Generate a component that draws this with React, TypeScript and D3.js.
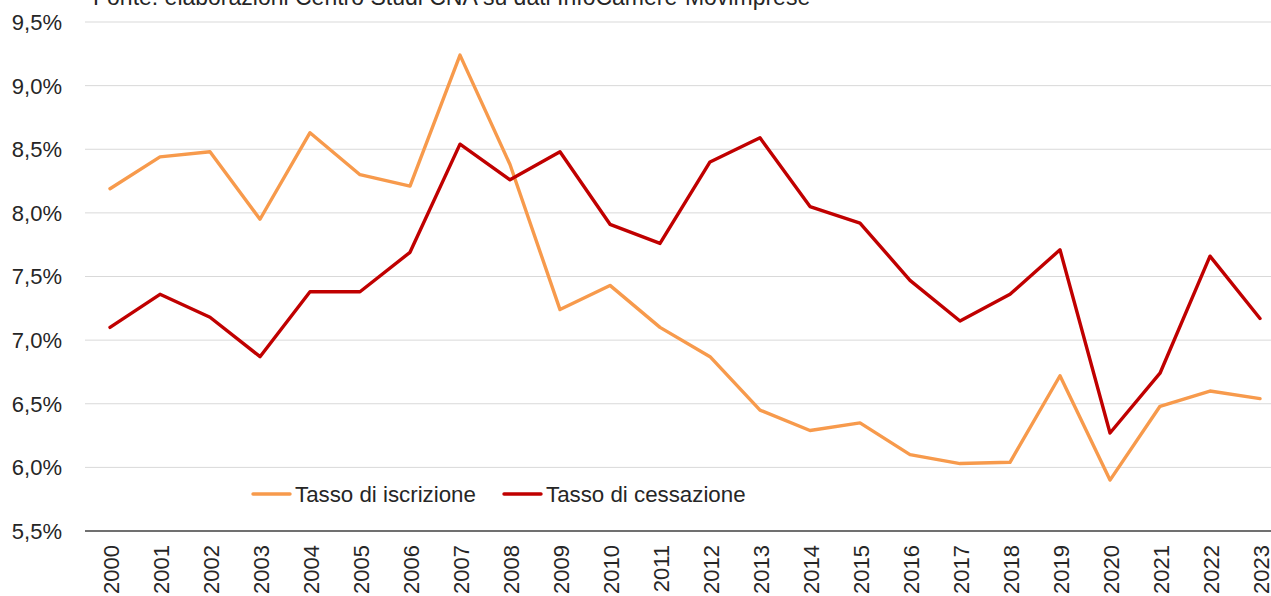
import * as d3 from 'd3'

const YEARS = ['2000', '2001', '2002', '2003', '2004', '2005', '2006', '2007', '2008', '2009', '2010', '2011',
  '2012', '2013', '2014', '2015', '2016', '2017', '2018', '2019', '2020', '2021', '2022', '2023']

const ISCRIZIONE = [8.19, 8.44, 8.48, 7.95, 8.63, 8.30, 8.21, 9.24, 8.38, 7.24, 7.43, 7.10,
  6.87, 6.45, 6.29, 6.35, 6.10, 6.03, 6.04, 6.72, 5.90, 6.48, 6.60, 6.54]

const CESSAZIONE = [7.10, 7.36, 7.18, 6.87, 7.38, 7.38, 7.69, 8.54, 8.26, 8.48, 7.91, 7.76,
  8.40, 8.59, 8.05, 7.92, 7.47, 7.15, 7.36, 7.71, 6.27, 6.74, 7.66, 7.17]

const Y_TICKS = [5.5, 6.0, 6.5, 7.0, 7.5, 8.0, 8.5, 9.0, 9.5]

const SOURCE = 'Fonte: elaborazioni Centro Studi CNA su dati InfoCamere-Movimprese'

const W = 1271
const H = 596
const LEFT = 85
const RIGHT = 1285
const TOP = 22
const BOTTOM = 531
const FONT = '"Liberation Sans", Arial, sans-serif'
const ORANGE = '#F79A4C'
const RED = '#C00000'
const TEXT = '#262626'

export default function App() {
  const x = d3.scaleBand<string>().domain(YEARS).range([LEFT, RIGHT]).padding(0)
  const y = d3.scaleLinear().domain([5.5, 9.5]).range([BOTTOM, TOP])
  const cx = (yr: string) => x(yr)! + x.bandwidth() / 2

  const line = d3.line<number>()
    .x((_d, i) => cx(YEARS[i]))
    .y(d => y(d))

  const fmt = (v: number) => v.toFixed(1).replace('.', ',') + '%'

  const series = [
    { name: 'Tasso di iscrizione', values: ISCRIZIONE, color: ORANGE, lx: 253 },
    { name: 'Tasso di cessazione', values: CESSAZIONE, color: RED, lx: 504 },
  ]

  return (
    <svg width={W} height={H} style={{ position: 'absolute', left: 0, top: 0, background: '#fff' }}
      fontFamily={FONT}>
      <rect width={W} height={H} fill="#fff" />
      {/* source note, cut off at the top edge as in the original */}
      <text x={93} y={5} fontSize={23} fill={TEXT}>{SOURCE}</text>

      {/* gridlines + y labels */}
      {Y_TICKS.map(t => (
        <g key={t}>
          {t !== 5.5 && (
            <line x1={LEFT} x2={W} y1={y(t)} y2={y(t)} stroke="#d9d9d9" strokeWidth={1} />
          )}
          <text x={62} y={y(t)} dy="0.36em" textAnchor="end" fontSize={22} fill={TEXT}>{fmt(t)}</text>
        </g>
      ))}
      <line x1={LEFT} x2={W} y1={BOTTOM} y2={BOTTOM} stroke="#404040" strokeWidth={1.5} />

      {/* x labels */}
      {YEARS.map(yr => (
        <text key={yr} transform={`translate(${cx(yr) + 1},545) rotate(-90)`} dy="0.36em"
          textAnchor="end" fontSize={22} fill={TEXT}>{yr}</text>
      ))}

      {/* lines */}
      {series.map(s => (
        <path key={s.name} d={line(s.values)!} fill="none" stroke={s.color} strokeWidth={3.4}
          strokeLinejoin="round" strokeLinecap="round" />
      ))}

      {/* legend */}
      {series.map(s => (
        <g key={s.name + '-lg'}>
          <line x1={s.lx} x2={s.lx + 37} y1={494} y2={494} stroke={s.color} strokeWidth={3.4} strokeLinecap="round" />
          <text x={s.lx + 42} y={494} dy="0.36em" fontSize={22.3} fill={TEXT}>{s.name}</text>
        </g>
      ))}
    </svg>
  )
}
